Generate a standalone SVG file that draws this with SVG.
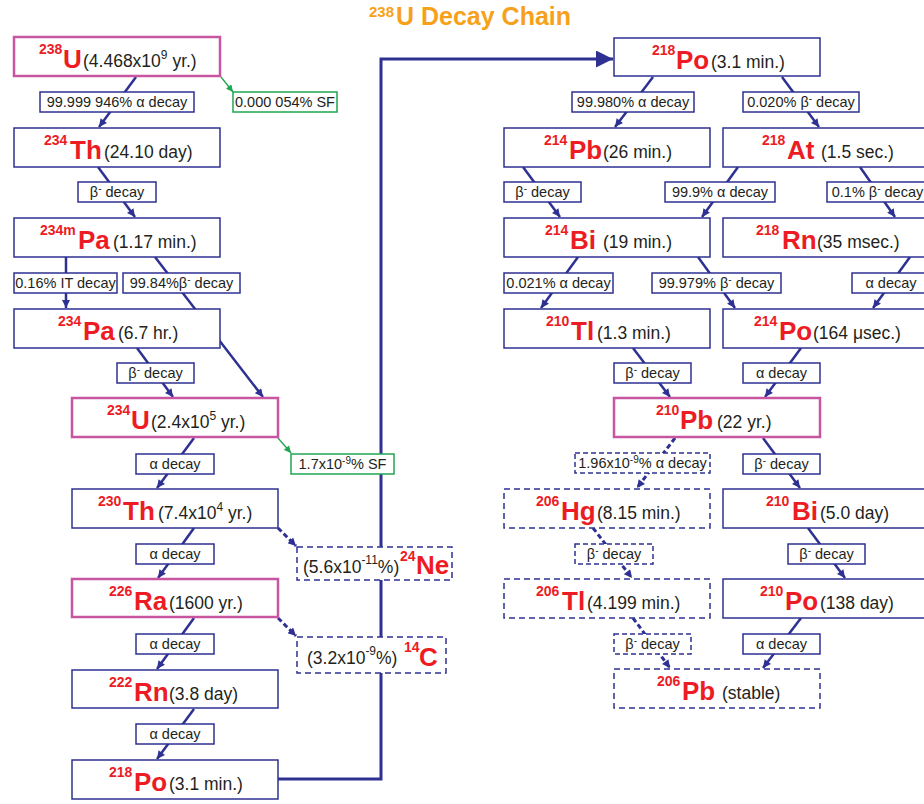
<svg xmlns="http://www.w3.org/2000/svg" width="924" height="804" viewBox="0 0 924 804">
<defs>
<style>
.box{fill:#fff;stroke:#2e3192;stroke-width:1.5}
.pink{fill:#fff;stroke:#c8559f;stroke-width:2.5}
.dbox{fill:#fff;stroke:#2e3192;stroke-width:1.5;stroke-dasharray:6 4}
.lbl{fill:#fff;stroke:#2e3192;stroke-width:1.5}
.glbl{fill:#fff;stroke:#1ea650;stroke-width:1.5}
.dlbl{fill:#fff;stroke:#2e3192;stroke-width:1.5;stroke-dasharray:5 3}
.c{stroke:#2e3192;stroke-width:2.5;fill:none;marker-end:url(#ah)}
.cd{stroke:#2e3192;stroke-width:3;fill:none;stroke-dasharray:5 3;marker-end:url(#ah)}
.cg{stroke:#1ea650;stroke-width:1.3;fill:none;marker-end:url(#ahg)}
.big{stroke:#2e3192;stroke-width:3;fill:none;marker-end:url(#ahb)}
text{font-family:"Liberation Sans",Arial,sans-serif}
.m{font-weight:bold;font-size:14px;fill:#ed1c24}
.s{font-weight:bold;font-size:26px;fill:#ed1c24}
.t{font-size:17.5px;fill:#231f20}
.e{font-size:12px}
.l{font-size:14.5px;fill:#231f20;text-anchor:middle}
.le{font-size:10px}
.title{font-weight:bold;fill:#f7a11a}
</style>
<marker id="ah" viewBox="0 0 10 10" refX="10" refY="5" markerWidth="9" markerHeight="8" markerUnits="userSpaceOnUse" orient="auto"><path d="M0,0 L10,5 L0,10 z" fill="#2e3192"/></marker>
<marker id="ahg" viewBox="0 0 10 10" refX="10" refY="5" markerWidth="8" markerHeight="7" markerUnits="userSpaceOnUse" orient="auto"><path d="M0,0 L10,5 L0,10 z" fill="#1ea650"/></marker>
<marker id="ahb" viewBox="0 0 10 10" refX="10" refY="5" markerWidth="19" markerHeight="17" markerUnits="userSpaceOnUse" orient="auto"><path d="M0,0 L10,5 L0,10 z" fill="#2e3192"/></marker>
</defs>

<text class="title"><tspan x="369" y="17" font-size="15">238</tspan><tspan x="396" y="25" font-size="25">U Decay Chain</tspan></text>

<g id="connectors">
<path class="big" d="M278,779 H381 V59 H613"/>
<line class="c" x1="136" y1="77" x2="99" y2="127"/>
<line class="cg" x1="221" y1="77" x2="233" y2="92"/>
<line class="c" x1="98" y1="167" x2="135" y2="217"/>
<line class="c" x1="66" y1="257" x2="66" y2="308"/>
<line class="c" x1="155" y1="257" x2="263" y2="397"/>
<line class="c" x1="137" y1="348" x2="173" y2="397"/>
<line class="c" x1="194" y1="438" x2="157" y2="488"/>
<line class="cg" x1="278" y1="438" x2="291" y2="453"/>
<line class="c" x1="194" y1="528" x2="158" y2="578"/>
<line class="cd" x1="278" y1="528" x2="296" y2="546"/>
<line class="c" x1="194" y1="618" x2="157" y2="669"/>
<line class="cd" x1="278" y1="618" x2="296" y2="636"/>
<line class="c" x1="194" y1="709" x2="157" y2="759"/>
<line class="c" x1="653" y1="77" x2="615" y2="127"/>
<line class="c" x1="782" y1="77" x2="819" y2="127"/>
<line class="c" x1="523" y1="167" x2="560" y2="217"/>
<line class="c" x1="738" y1="167" x2="702" y2="217"/>
<line class="c" x1="860" y1="167" x2="895" y2="217"/>
<line class="c" x1="578" y1="257" x2="541" y2="308"/>
<line class="c" x1="698" y1="257" x2="735" y2="308"/>
<line class="c" x1="910" y1="257" x2="873" y2="308"/>
<line class="c" x1="633" y1="348" x2="670" y2="397"/>
<line class="c" x1="801" y1="348" x2="765" y2="397"/>
<line class="cd" x1="675" y1="438" x2="637" y2="488"/>
<line class="c" x1="763" y1="438" x2="800" y2="488"/>
<line class="cd" x1="593" y1="528" x2="632" y2="578"/>
<line class="c" x1="808" y1="528" x2="845" y2="578"/>
<line class="cd" x1="633" y1="618" x2="670" y2="668"/>
<line class="c" x1="801" y1="618" x2="763" y2="668"/>
</g>

<g id="edge-labels">
<g id="lab-u238-th234"><rect class="lbl" x="40" y="92" width="154" height="20"/><text class="l" x="117" y="106.5">99.999 946% α decay</text></g>
<g id="lab-u238-sf"><rect class="glbl" x="233" y="92" width="104" height="20"/><text class="l" x="285" y="106.5">0.000 054% SF</text></g>
<g id="lab-th234-pa234m"><rect class="lbl" x="78" y="182" width="78" height="20"/><text class="l" x="117" y="196.5">β<tspan class="le" dy="-5">-</tspan><tspan dy="5"> decay</tspan></text></g>
<g id="lab-pa234m-pa234"><rect class="lbl" x="14" y="273" width="103" height="20"/><text class="l" x="65.5" y="287.5">0.16% IT decay</text></g>
<g id="lab-pa234m-u234"><rect class="lbl" x="123" y="273" width="117" height="20"/><text class="l" x="181.5" y="287.5">99.84%β<tspan class="le" dy="-5">-</tspan><tspan dy="5"> decay</tspan></text></g>
<g id="lab-pa234-u234"><rect class="lbl" x="117" y="363" width="77" height="20"/><text class="l" x="155.5" y="377.5">β<tspan class="le" dy="-5">-</tspan><tspan dy="5"> decay</tspan></text></g>
<g id="lab-u234-th230"><rect class="lbl" x="136" y="454" width="78" height="20"/><text class="l" x="175" y="468.5">α decay</text></g>
<g id="lab-u234-sf"><rect class="glbl" x="291" y="454" width="103" height="20"/><text class="l" x="342.5" y="468.5">1.7x10<tspan class="le" dy="-5">-9</tspan><tspan dy="5">% SF</tspan></text></g>
<g id="lab-th230-ra226"><rect class="lbl" x="136" y="544" width="78" height="20"/><text class="l" x="175" y="558.5">α decay</text></g>
<g id="lab-ra226-rn222"><rect class="lbl" x="136" y="634" width="78" height="20"/><text class="l" x="175" y="648.5">α decay</text></g>
<g id="lab-rn222-po218"><rect class="lbl" x="136" y="724" width="78" height="20"/><text class="l" x="175" y="738.5">α decay</text></g>

<g id="lab-po218-pb214"><rect class="lbl" x="572" y="92" width="122" height="20"/><text class="l" x="633" y="106.5">99.980% α decay</text></g>
<g id="lab-po218-at218"><rect class="lbl" x="743" y="92" width="116" height="20"/><text class="l" x="801" y="106.5">0.020% β<tspan class="le" dy="-5">-</tspan><tspan dy="5"> decay</tspan></text></g>
<g id="lab-pb214-bi214"><rect class="lbl" x="504" y="182" width="77" height="20"/><text class="l" x="542.5" y="196.5">β<tspan class="le" dy="-5">-</tspan><tspan dy="5"> decay</tspan></text></g>
<g id="lab-at218-bi214"><rect class="lbl" x="665" y="182" width="110" height="20"/><text class="l" x="720" y="196.5">99.9% α decay</text></g>
<g id="lab-at218-rn218"><rect class="lbl" x="827" y="182" width="101" height="20"/><text class="l" x="877.5" y="196.5">0.1% β<tspan class="le" dy="-5">-</tspan><tspan dy="5"> decay</tspan></text></g>
<g id="lab-bi214-tl210"><rect class="lbl" x="504" y="273" width="109" height="20"/><text class="l" x="558.5" y="287.5">0.021% α decay</text></g>
<g id="lab-bi214-po214"><rect class="lbl" x="652" y="273" width="129" height="20"/><text class="l" x="716.5" y="287.5">99.979% β<tspan class="le" dy="-5">-</tspan><tspan dy="5"> decay</tspan></text></g>
<g id="lab-rn218-po214"><rect class="lbl" x="852" y="273" width="78" height="20"/><text class="l" x="891" y="287.5">α decay</text></g>
<g id="lab-tl210-pb210"><rect class="lbl" x="614" y="363" width="77" height="20"/><text class="l" x="652.5" y="377.5">β<tspan class="le" dy="-5">-</tspan><tspan dy="5"> decay</tspan></text></g>
<g id="lab-po214-pb210"><rect class="lbl" x="743" y="363" width="77" height="20"/><text class="l" x="781.5" y="377.5">α decay</text></g>
<g id="lab-pb210-hg206"><rect class="dlbl" x="575" y="453" width="135" height="20"/><text class="l" x="642.5" y="467.5">1.96x10<tspan class="le" dy="-5">-9</tspan><tspan dy="5">% α decay</tspan></text></g>
<g id="lab-pb210-bi210"><rect class="lbl" x="743" y="454" width="77" height="20"/><text class="l" x="781.5" y="468.5">β<tspan class="le" dy="-5">-</tspan><tspan dy="5"> decay</tspan></text></g>
<g id="lab-hg206-tl206"><rect class="dlbl" x="575" y="544" width="78" height="20"/><text class="l" x="614" y="558.5">β<tspan class="le" dy="-5">-</tspan><tspan dy="5"> decay</tspan></text></g>
<g id="lab-bi210-po210"><rect class="lbl" x="788" y="544" width="77" height="20"/><text class="l" x="826.5" y="558.5">β<tspan class="le" dy="-5">-</tspan><tspan dy="5"> decay</tspan></text></g>
<g id="lab-tl206-pb206"><rect class="dlbl" x="614" y="634" width="77" height="20"/><text class="l" x="652.5" y="648.5">β<tspan class="le" dy="-5">-</tspan><tspan dy="5"> decay</tspan></text></g>
<g id="lab-po210-pb206"><rect class="lbl" x="743" y="634" width="77" height="20"/><text class="l" x="781.5" y="648.5">α decay</text></g>
</g>

<g id="U238"><rect class="pink" x="14" y="37" width="206" height="39"/><text><tspan class="m" x="39" y="54">238</tspan><tspan class="s" x="63" y="68">U</tspan><tspan class="t" x="83" y="67">(4.468x10</tspan><tspan class="t e" dy="-8">9</tspan><tspan class="t" dy="8"> yr.)</tspan></text></g>
<g id="Th234"><rect class="box" x="14" y="128" width="206" height="39"/><text><tspan class="m" x="44" y="145">234</tspan><tspan class="s" x="70" y="159">Th</tspan><tspan class="t" x="104" y="158">(24.10 day)</tspan></text></g>
<g id="Pa234m"><rect class="box" x="14" y="218" width="206" height="39"/><text><tspan class="m" x="40" y="235">234m</tspan><tspan class="s" x="78" y="249">Pa</tspan><tspan class="t" x="113" y="248">(1.17 min.)</tspan></text></g>
<g id="Pa234"><rect class="box" x="14" y="309" width="206" height="39"/><text><tspan class="m" x="58" y="326">234</tspan><tspan class="s" x="83" y="340">Pa</tspan><tspan class="t" x="118" y="339">(6.7 hr.)</tspan></text></g>
<g id="U234"><rect class="pink" x="72" y="398" width="206" height="39"/><text><tspan class="m" x="107" y="415">234</tspan><tspan class="s" x="131" y="429">U</tspan><tspan class="t" x="151" y="428">(2.4x10</tspan><tspan class="t e" dy="-8">5</tspan><tspan class="t" dy="8"> yr.)</tspan></text></g>
<g id="Th230"><rect class="box" x="72" y="489" width="206" height="39"/><text><tspan class="m" x="98" y="506">230</tspan><tspan class="s" x="123" y="520">Th</tspan><tspan class="t" x="158" y="519">(7.4x10</tspan><tspan class="t e" dy="-8">4</tspan><tspan class="t" dy="8"> yr.)</tspan></text></g>
<g id="Ra226"><rect class="pink" x="72" y="579" width="206" height="38"/><text><tspan class="m" x="109" y="596">226</tspan><tspan class="s" x="134" y="610">Ra</tspan><tspan class="t" x="169" y="609">(1600 yr.)</tspan></text></g>
<g id="Rn222"><rect class="box" x="72" y="670" width="206" height="38"/><text><tspan class="m" x="109" y="687">222</tspan><tspan class="s" x="134" y="701">Rn</tspan><tspan class="t" x="169" y="700">(3.8 day)</tspan></text></g>
<g id="Po218a"><rect class="box" x="72" y="760" width="206" height="39"/><text><tspan class="m" x="109" y="777">218</tspan><tspan class="s" x="134" y="791">Po</tspan><tspan class="t" x="169" y="790">(3.1 min.)</tspan></text></g>
<g id="Ne24"><rect class="dbox" x="297" y="547" width="155" height="33"/><text><tspan class="t" x="303" y="573">(5.6x10</tspan><tspan class="t e" dy="-9">-11</tspan><tspan class="t" dy="9">%)</tspan><tspan class="m" x="400" y="561">24</tspan><tspan class="s" x="416" y="574">Ne</tspan></text></g>
<g id="C14"><rect class="dbox" x="297" y="637" width="149" height="36"/><text><tspan class="t" x="307" y="664">(3.2x10</tspan><tspan class="t e" dy="-9">-9</tspan><tspan class="t" dy="9">%)</tspan><tspan class="m" x="404" y="652">14</tspan><tspan class="s" x="419" y="666">C</tspan></text></g>

<g id="Po218b"><rect class="box" x="614" y="38" width="206" height="38"/><text><tspan class="m" x="652" y="55">218</tspan><tspan class="s" x="676" y="69">Po</tspan><tspan class="t" x="711" y="68">(3.1 min.)</tspan></text></g>
<g id="Pb214"><rect class="box" x="504" y="128" width="206" height="39"/><text><tspan class="m" x="544" y="145">214</tspan><tspan class="s" x="569" y="159">Pb</tspan><tspan class="t" x="603" y="158">(26 min.)</tspan></text></g>
<g id="At218"><rect class="box" x="723" y="128" width="206" height="39"/><text><tspan class="m" x="762" y="145">218</tspan><tspan class="s" x="787" y="159">At</tspan><tspan class="t" x="821" y="158">(1.5 sec.)</tspan></text></g>
<g id="Bi214"><rect class="box" x="504" y="218" width="206" height="39"/><text><tspan class="m" x="545" y="235">214</tspan><tspan class="s" x="570" y="249">Bi</tspan><tspan class="t" x="603" y="248">(19 min.)</tspan></text></g>
<g id="Rn218"><rect class="box" x="723" y="218" width="206" height="39"/><text><tspan class="m" x="756" y="235">218</tspan><tspan class="s" x="782" y="249">Rn</tspan><tspan class="t" x="817" y="248">(35 msec.)</tspan></text></g>
<g id="Tl210"><rect class="box" x="504" y="309" width="206" height="39"/><text><tspan class="m" x="546" y="326">210</tspan><tspan class="s" x="571" y="340">Tl</tspan><tspan class="t" x="597" y="339">(1.3 min.)</tspan></text></g>
<g id="Po214"><rect class="box" x="723" y="309" width="206" height="39"/><text><tspan class="m" x="754" y="326">214</tspan><tspan class="s" x="779" y="340">Po</tspan><tspan class="t" x="813" y="339">(164 μsec.)</tspan></text></g>
<g id="Pb210"><rect class="pink" x="614" y="398" width="206" height="39"/><text><tspan class="m" x="656" y="415">210</tspan><tspan class="s" x="680" y="429">Pb</tspan><tspan class="t" x="717" y="428">(22 yr.)</tspan></text></g>
<g id="Hg206"><rect class="dbox" x="504" y="489" width="206" height="39"/><text><tspan class="m" x="536" y="506">206</tspan><tspan class="s" x="561" y="520">Hg</tspan><tspan class="t" x="597" y="519">(8.15 min.)</tspan></text></g>
<g id="Bi210"><rect class="box" x="723" y="489" width="206" height="39"/><text><tspan class="m" x="766" y="506">210</tspan><tspan class="s" x="792" y="520">Bi</tspan><tspan class="t" x="820" y="519">(5.0 day)</tspan></text></g>
<g id="Tl206"><rect class="dbox" x="504" y="579" width="206" height="39"/><text><tspan class="m" x="536" y="596">206</tspan><tspan class="s" x="562" y="610">Tl</tspan><tspan class="t" x="587" y="609">(4.199 min.)</tspan></text></g>
<g id="Po210"><rect class="box" x="723" y="579" width="206" height="39"/><text><tspan class="m" x="760" y="596">210</tspan><tspan class="s" x="785" y="610">Po</tspan><tspan class="t" x="820" y="609">(138 day)</tspan></text></g>
<g id="Pb206"><rect class="dbox" x="614" y="669" width="206" height="39"/><text><tspan class="m" x="657" y="686">206</tspan><tspan class="s" x="682" y="700">Pb</tspan><tspan class="t" x="722" y="699">(stable)</tspan></text></g>
</svg>
